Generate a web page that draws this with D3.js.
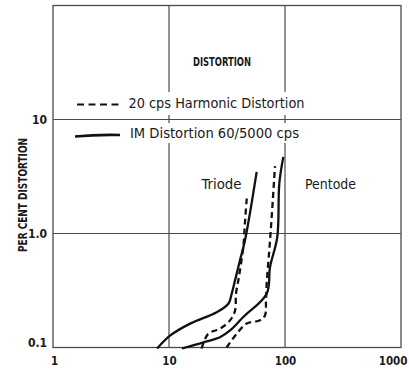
<!DOCTYPE html>
<html>
<head>
<meta charset="utf-8">
<script src="https://cdn.jsdelivr.net/npm/d3@7"></script>
<style>
  html, body { margin: 0; padding: 0; background: #fff; }
  svg { display: block; }
  text { font-family: "DejaVu Sans Condensed", "DejaVu Sans", sans-serif; fill: #1a1a1a; }
</style>
</head>
<body>
<svg id="chart" width="409" height="371"></svg>
<script>
// ---- data ----
const xTicks = [1, 10, 100, 1000];
const xTickLabels = ["1", "10", "100", "1000"];
const yTicks = [0.1, 1, 10];
const yTickLabels = ["0.1", "1.0", "10"];
const xGrid = [10, 100];
const yGrid = [1, 10];

// Triode, IM distortion (solid)
const triodeIM_x = [7.9, 10.2, 15.2, 25.8, 32.5, 34.7, 37.1, 40.9, 45.2, 57.0];
const triodeIM_y = [0.098, 0.127, 0.162, 0.204, 0.242, 0.296, 0.388, 0.582, 0.871, 3.47];
// Triode, 20 cps harmonic distortion (dashed)
const triodeHD_x = [19.1, 21.8, 27.5, 33.6, 37.1, 37.8, 39.6, 40.9, 43.7, 45.2, 46.8];
const triodeHD_y = [0.098, 0.132, 0.146, 0.173, 0.211, 0.296, 0.388, 0.475, 0.761, 1.26, 2.03];
// Pentode, IM distortion (solid)
const pentodeIM_x = [12.9, 19.8, 27.5, 33.6, 43.7, 69.5, 74.3, 85.8, 89.3, 96.7];
const pentodeIM_y = [0.098, 0.111, 0.123, 0.141, 0.185, 0.296, 0.508, 0.932, 2.74, 4.7];
// Pentode, 20 cps harmonic distortion (dashed)
const pentodeHD_x = [31.4, 38.3, 46.8, 60.9, 67.2, 68.6, 69.5, 73.2, 76.8, 82.0];
const pentodeHD_y = [0.1, 0.132, 0.162, 0.173, 0.191, 0.259, 0.363, 0.712, 1.40, 3.9];

const legendLabels = ["20 cps  Harmonic Distortion", "IM Distortion 60/5000 cps"];
const chartTitle = "DISTORTION";
const yAxisTitle = "PER CENT DISTORTION";
const regionLabels = ["Triode", "Pentode"];

// ---- drawing ----
const svg = d3.select("#chart");
const x = d3.scaleLog().domain([1, 1000]).range([53, 401]);
const y = d3.scaleLog().domain([0.1, 100]).range([347.5, 5.5]);
const gridColor = "#4a4a4a";

const g = svg.append("g");

// vertical grid lines
g.selectAll(".vg").data(xGrid).enter().append("line")
  .attr("x1", d => x(d)).attr("x2", d => x(d))
  .attr("y1", y(100)).attr("y2", y(0.1))
  .attr("stroke", gridColor).attr("stroke-width", 1.2);

// white knock-outs behind legend text rows
g.append("rect").attr("x", 126).attr("y", 92).attr("width", 182).attr("height", 23).attr("fill", "#fff");
g.append("rect").attr("x", 126).attr("y", 123).attr("width", 176).attr("height", 20).attr("fill", "#fff");

// horizontal grid lines
g.selectAll(".hg").data(yGrid).enter().append("line")
  .attr("x1", x(1)).attr("x2", x(1000))
  .attr("y1", d => y(d)).attr("y2", d => y(d))
  .attr("stroke", gridColor).attr("stroke-width", 1.2);

// frame
g.append("rect")
  .attr("x", x(1)).attr("y", y(100))
  .attr("width", x(1000) - x(1)).attr("height", y(0.1) - y(100))
  .attr("fill", "none").attr("stroke", gridColor).attr("stroke-width", 1.3);

// axes (labels only)
const xAxis = d3.axisBottom(x).tickValues(xTicks).tickFormat((d, i) => xTickLabels[i]).tickSize(0).tickPadding(9);
const xa = svg.append("g").attr("transform", `translate(0,${y(0.1)})`).call(xAxis);
xa.select(".domain").remove();
xa.selectAll("text")
  .style("font-size", "11.5px").style("font-weight", "bold")
  .style("font-family", "'DejaVu Sans Condensed', 'DejaVu Sans', sans-serif")
  .attr("fill", "#1a1a1a")
  .attr("text-anchor", (d, i) => i === xTicks.length - 1 ? "end" : "middle")
  .attr("dx", (d, i) => i === xTicks.length - 1 ? 6 : (i === 0 ? 1 : 0));

const yAxis = d3.axisLeft(y).tickValues(yTicks).tickFormat((d, i) => yTickLabels[i]).tickSize(0).tickPadding(6);
const ya = svg.append("g").attr("transform", `translate(${x(1)},0)`).call(yAxis);
ya.select(".domain").remove();
ya.selectAll("text")
  .style("font-size", "12px").style("font-weight", "bold")
  .style("font-family", "'DejaVu Sans Condensed', 'DejaVu Sans', sans-serif")
  .attr("fill", "#1a1a1a")
  .attr("dy", (d, i) => i === 0 ? "-0.05em" : "0.32em");

// y axis title
svg.append("text")
  .attr("transform", `translate(27,195) rotate(-90)`)
  .attr("text-anchor", "middle")
  .attr("textLength", 114).attr("lengthAdjust", "spacingAndGlyphs")
  .style("font-size", "13px").style("font-weight", "bold")
  .text(yAxisTitle);

// chart title
svg.append("text").attr("x", 222).attr("y", 66).attr("text-anchor", "middle")
  .attr("textLength", 58).attr("lengthAdjust", "spacingAndGlyphs")
  .style("font-size", "12.5px").style("font-weight", "bold")
  .text(chartTitle);

// region labels
svg.append("text").attr("x", 201.5).attr("y", 189)
  .attr("textLength", 40).attr("lengthAdjust", "spacingAndGlyphs")
  .style("font-size", "13.5px").text(regionLabels[0]);
svg.append("text").attr("x", 305).attr("y", 189)
  .attr("textLength", 51).attr("lengthAdjust", "spacingAndGlyphs")
  .style("font-size", "13.5px").text(regionLabels[1]);

// legend
svg.append("line").attr("x1", 77).attr("x2", 123).attr("y1", 104.5).attr("y2", 104.5)
  .attr("stroke", "#111").attr("stroke-width", 2).attr("stroke-dasharray", "7,4.5");
svg.append("text").attr("x", 128.5).attr("y", 107.5)
  .attr("textLength", 176).attr("lengthAdjust", "spacingAndGlyphs")
  .style("font-size", "14px").text(legendLabels[0]);
svg.append("path").attr("d", "M75,136.5 Q96,134.5 120,135")
  .attr("fill", "none").attr("stroke", "#111").attr("stroke-width", 2.6);
svg.append("text").attr("x", 130).attr("y", 137.5)
  .attr("textLength", 169).attr("lengthAdjust", "spacingAndGlyphs")
  .style("font-size", "14px").text(legendLabels[1]);

// curves
const line = d3.line().x(d => x(d[0])).y(d => y(d[1])).curve(d3.curveCatmullRom.alpha(0.5));
const series = [
  { xs: triodeIM_x, ys: triodeIM_y, dash: null },
  { xs: triodeHD_x, ys: triodeHD_y, dash: "6,4" },
  { xs: pentodeIM_x, ys: pentodeIM_y, dash: null },
  { xs: pentodeHD_x, ys: pentodeHD_y, dash: "6,4" }
];
series.forEach(s => {
  const pts = s.xs.map((v, i) => [v, s.ys[i]]);
  svg.append("path").attr("d", line(pts))
    .attr("fill", "none").attr("stroke", "#111")
    .attr("stroke-width", 2.3)
    .attr("stroke-dasharray", s.dash);
});
</script>
</body>
</html>
